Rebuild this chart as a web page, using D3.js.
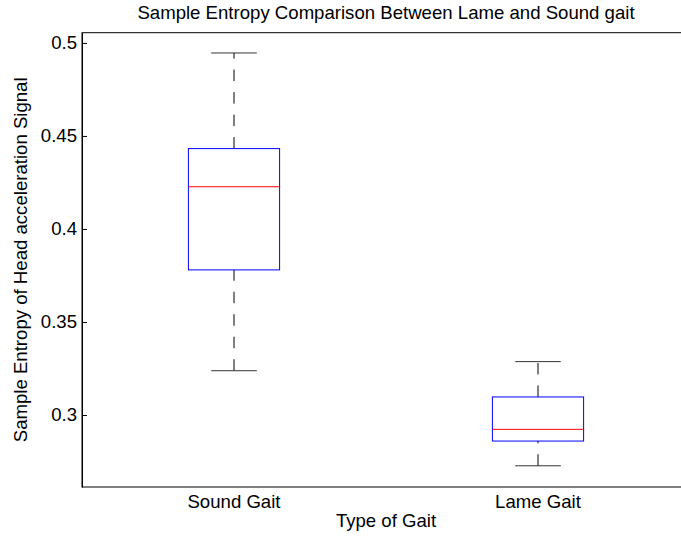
<!DOCTYPE html>
<html>
<head>
<meta charset="utf-8">
<script src="https://cdn.jsdelivr.net/npm/d3@7"></script>
<style>
  html, body { margin: 0; padding: 0; background: #fff; }
  svg { display: block; overflow: hidden; }
  text { font-family: "Liberation Sans", Arial, sans-serif; fill: #000; }
</style>
</head>
<body>
<svg id="chart" width="681" height="536"></svg>
<script>
// Group labels and five-number summaries (lower whisker, Q1, median, Q3, upper whisker)
const categories = ["Sound Gait", "Lame Gait"];
const whiskerLow  = [0.3238, 0.2727];
const quartile1   = [0.3780, 0.2860];
const medians     = [0.4227, 0.2923];
const quartile3   = [0.4432, 0.3097];
const whiskerHigh = [0.4946, 0.3287];
const yTicks = [0.3, 0.35, 0.4, 0.45, 0.5];
const yTickLabels = ["0.3", "0.35", "0.4", "0.45", "0.5"];

const titleText = "Sample Entropy Comparison Between Lame and Sound gait";
const xLabelText = "Type of Gait";
const yLabelText = "Sample Entropy of Head acceleration Signal";

const svg = d3.select("#chart");
const plot = { left: 82, right: 690, top: 32.7, bottom: 487 };
const fontSize = 18.6;

const x = d3.scaleLinear().domain([0.5, 2.5]).range([plot.left, plot.right]);
const y = d3.scaleLinear().domain([0.2613, 0.5055]).range([plot.bottom, plot.top]);

const boxHalf = 0.15;   // half box width in x units
const capHalf = 0.075;  // half whisker-cap width in x units

const boxes = categories.map((c, i) => ({
  name: c, pos: i + 1,
  lo: whiskerLow[i], q1: quartile1[i], med: medians[i], q3: quartile3[i], hi: whiskerHigh[i]
}));

// Axes frame
const frame = svg.append("g").attr("stroke", "#000").attr("stroke-width", 1).attr("fill", "none");
frame.append("rect")
  .attr("x", plot.left).attr("y", plot.top)
  .attr("width", plot.right - plot.left).attr("height", plot.bottom - plot.top);

// Y axis with inward ticks
const yAxis = d3.axisLeft(y)
  .tickValues(yTicks)
  .tickFormat((d, i) => yTickLabels[i])
  .tickSizeInner(-5)
  .tickSizeOuter(0)
  .tickPadding(5);
const gy = svg.append("g").attr("transform", `translate(${plot.left},0)`).call(yAxis);
gy.select(".domain").attr("stroke", "#000");
gy.selectAll(".tick line").attr("stroke", "#000");
gy.selectAll(".tick text")
  .attr("font-size", fontSize)
  .attr("font-family", "Liberation Sans, Arial, sans-serif")
  .attr("fill", "#000");

// Mirrored ticks on the right side
svg.append("g").selectAll("line").data(yTicks).join("line")
  .attr("x1", plot.right).attr("x2", plot.right - 5)
  .attr("y1", d => y(d)).attr("y2", d => y(d))
  .attr("stroke", "#000");

// X category labels
svg.append("g").selectAll("text").data(boxes).join("text")
  .attr("x", d => x(d.pos))
  .attr("y", 508)
  .attr("text-anchor", "middle")
  .attr("font-size", fontSize)
  .text(d => d.name);

// Box plots
const g = svg.append("g");
boxes.forEach(b => {
  const grp = g.append("g");
  // upper whisker: from Q3 up to the upper adjacent value
  grp.append("line")
    .attr("x1", x(b.pos)).attr("x2", x(b.pos))
    .attr("y1", y(b.q3)).attr("y2", y(b.hi))
    .attr("stroke", "#000").attr("stroke-dasharray", "11.5,11");
  // lower whisker: from the lower adjacent value up to Q1
  grp.append("line")
    .attr("x1", x(b.pos)).attr("x2", x(b.pos))
    .attr("y1", y(b.lo)).attr("y2", y(b.q1))
    .attr("stroke", "#000").attr("stroke-dasharray", "11.5,11");
  // caps
  [b.hi, b.lo].forEach(v => {
    grp.append("line")
      .attr("x1", x(b.pos - capHalf)).attr("x2", x(b.pos + capHalf))
      .attr("y1", y(v)).attr("y2", y(v))
      .attr("stroke", "#333");
  });
  // box
  grp.append("rect")
    .attr("x", x(b.pos - boxHalf)).attr("y", y(b.q3))
    .attr("width", x(b.pos + boxHalf) - x(b.pos - boxHalf))
    .attr("height", y(b.q1) - y(b.q3))
    .attr("fill", "none").attr("stroke", "#0000ff");
  // median
  grp.append("line")
    .attr("x1", x(b.pos - boxHalf)).attr("x2", x(b.pos + boxHalf))
    .attr("y1", y(b.med)).attr("y2", y(b.med))
    .attr("stroke", "#ff0000");
});

// Title and axis labels
const cx = (plot.left + plot.right) / 2;
svg.append("text")
  .attr("x", cx).attr("y", 19)
  .attr("text-anchor", "middle").attr("font-size", fontSize)
  .text(titleText);
svg.append("text")
  .attr("x", cx).attr("y", 527)
  .attr("text-anchor", "middle").attr("font-size", fontSize)
  .text(xLabelText);
svg.append("text")
  .attr("transform", `translate(27,${(plot.top + plot.bottom) / 2}) rotate(-90)`)
  .attr("text-anchor", "middle").attr("font-size", fontSize)
  .text(yLabelText);
</script>
</body>
</html>
